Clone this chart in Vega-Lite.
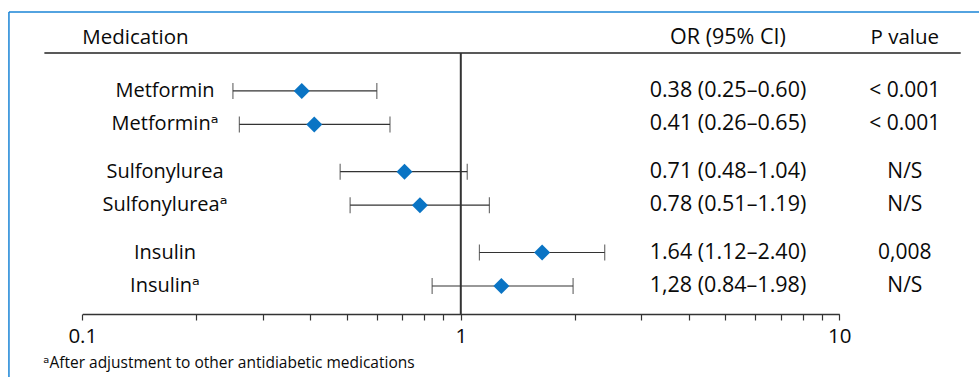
{
  "$schema": "https://vega.github.io/schema/vega-lite/v6.json",
  "width": 970,
  "height": 365,
  "autosize": {"type": "none"},
  "padding": {"left": 9, "top": 12, "right": 0, "bottom": 0},
  "background": "white",
  "config": {
    "view": {"stroke": null},
    "font": "Open Sans",
    "text": {"font": "Open Sans, DejaVu Sans", "color": "#0a0a0a"}
  },
  "data": {
    "values": [
      {"drug": "Metformin", "adj": "crude", "label": "Metformin", "or": 0.38, "lo": 0.25, "hi": 0.60, "ci": "0.38 (0.25–0.60)", "p": "< 0.001"},
      {"drug": "Metformin", "adj": "adjusted", "label": "Metforminᵃ", "or": 0.41, "lo": 0.26, "hi": 0.65, "ci": "0.41 (0.26–0.65)", "p": "< 0.001"},
      {"drug": "Sulfonylurea", "adj": "crude", "label": "Sulfonylurea", "or": 0.71, "lo": 0.48, "hi": 1.04, "ci": "0.71 (0.48–1.04)", "p": "N/S"},
      {"drug": "Sulfonylurea", "adj": "adjusted", "label": "Sulfonylureaᵃ", "or": 0.78, "lo": 0.51, "hi": 1.19, "ci": "0.78 (0.51–1.19)", "p": "N/S"},
      {"drug": "Insulin", "adj": "crude", "label": "Insulin", "or": 1.64, "lo": 1.12, "hi": 2.40, "ci": "1.64 (1.12–2.40)", "p": "0,008"},
      {"drug": "Insulin", "adj": "adjusted", "label": "Insulinᵃ", "or": 1.28, "lo": 0.84, "hi": 1.98, "ci": "1,28 (0.84–1.98)", "p": "N/S"}
    ]
  },
  "layer": [
    {
      "mark": {"type": "rule", "color": "#333333", "strokeWidth": 1.2},
      "encoding": {
        "x": {
          "field": "lo", "type": "quantitative", "title": null,
          "scale": {"type": "log", "domain": [0.1, 10], "range": [73.3, 830.3]},
          "axis": {
            "orient": "bottom", "offset": -63, "title": null, "grid": false,
            "values": [0.1, 0.2, 0.3, 0.4, 0.5, 0.6, 0.7, 0.8, 0.9, 1, 2, 3, 4, 5, 6, 7, 8, 9, 10],
            "labelExpr": "datum.value == 0.1 ? '0.1' : (datum.value == 1 ? '1' : (datum.value == 10 ? '10' : ''))",
            "tickSize": 6, "tickWidth": 1.2, "tickColor": "#333333",
            "domainColor": "#333333", "domainWidth": 1.5,
            "labelFont": "Open Sans", "labelFontSize": 20.5, "labelColor": "#0a0a0a",
            "labelPadding": 6, "labelFlush": false, "labelOverlap": false
          }
        },
        "x2": {"field": "hi"},
        "y": {
          "field": "drug", "type": "nominal",
          "scale": {"domain": ["hdr", "Metformin", "Sulfonylurea", "Insulin"], "range": [-18.65, 290.75], "paddingInner": 0.1708, "paddingOuter": 0},
          "axis": null
        },
        "yOffset": {
          "field": "adj", "type": "nominal",
          "scale": {"domain": ["crude", "adjusted"], "paddingInner": 0, "paddingOuter": 0}
        }
      }
    },
    {
      "mark": {"type": "tick", "color": "#333333", "thickness": 1.2, "size": 16},
      "encoding": {
        "x": {"field": "lo", "type": "quantitative", "title": null},
        "y": {"field": "drug", "type": "nominal"},
        "yOffset": {"field": "adj", "type": "nominal"}
      }
    },
    {
      "mark": {"type": "tick", "color": "#333333", "thickness": 1.2, "size": 16},
      "encoding": {
        "x": {"field": "hi", "type": "quantitative", "title": null},
        "y": {"field": "drug", "type": "nominal"},
        "yOffset": {"field": "adj", "type": "nominal"}
      }
    },
    {
      "mark": {"type": "point", "shape": "diamond", "filled": true, "size": 256, "color": "#0a74c4", "opacity": 1},
      "encoding": {
        "x": {"field": "or", "type": "quantitative", "title": null},
        "y": {"field": "drug", "type": "nominal"},
        "yOffset": {"field": "adj", "type": "nominal"}
      }
    },
    {
      "mark": {"type": "text", "fontSize": 20, "align": "center", "baseline": "middle"},
      "encoding": {
        "x": {"datum": 0.1654, "title": null},
        "y": {"field": "drug", "type": "nominal"},
        "yOffset": {"field": "adj", "type": "nominal"},
        "text": {"field": "label"}
      }
    },
    {
      "mark": {"type": "text", "fontSize": 21.5, "align": "center", "baseline": "middle"},
      "encoding": {
        "x": {"datum": 5.08, "title": null},
        "y": {"field": "drug", "type": "nominal"},
        "yOffset": {"field": "adj", "type": "nominal"},
        "text": {"field": "ci"}
      }
    },
    {
      "mark": {"type": "text", "fontSize": 21, "align": "center", "baseline": "middle"},
      "encoding": {
        "x": {"datum": 14.9, "title": null},
        "y": {"field": "drug", "type": "nominal"},
        "yOffset": {"field": "adj", "type": "nominal"},
        "text": {"field": "p"}
      }
    },
    {
      "data": {"values": [{}]},
      "mark": {"type": "rule", "color": "#1a84d6", "strokeWidth": 1.5},
      "encoding": {
        "x": {"datum": 0.064, "title": null},
        "x2": {"datum": 24.3},
        "y": {"datum": "hdr", "bandPosition": 0.278}
      }
    },
    {
      "data": {"values": [{}]},
      "mark": {"type": "rule", "color": "#1a84d6", "strokeWidth": 1.5},
      "encoding": {
        "x": {"datum": 0.064, "title": null},
        "y": {"datum": "hdr", "bandPosition": 0.278},
        "y2": {"datum": "Insulin", "bandPosition": 2.2}
      }
    },
    {
      "data": {"values": [{}]},
      "mark": {"type": "rule", "color": "#222222", "strokeWidth": 1.5},
      "encoding": {
        "x": {"datum": 0.0794, "title": null},
        "x2": {"datum": 20.93},
        "y": {"datum": "hdr", "bandPosition": 0.89}
      }
    },
    {
      "data": {"values": [{}]},
      "mark": {"type": "rule", "color": "#333333", "strokeWidth": 2},
      "encoding": {
        "x": {"datum": 1, "title": null},
        "y": {"datum": "hdr", "bandPosition": 0.89},
        "y2": {"datum": "Insulin", "bandPosition": 1.168}
      }
    },
    {
      "data": {"values": [{}]},
      "mark": {"type": "text", "text": "Medication", "fontSize": 20.5, "align": "left", "baseline": "alphabetic"},
      "encoding": {
        "x": {"datum": 0.1, "title": null},
        "y": {"datum": "hdr", "bandPosition": 0.756}
      }
    },
    {
      "data": {"values": [{}]},
      "mark": {"type": "text", "text": "OR (95% CI)", "fontSize": 21.5, "align": "center", "baseline": "alphabetic"},
      "encoding": {
        "x": {"datum": 5.08, "title": null},
        "y": {"datum": "hdr", "bandPosition": 0.756}
      }
    },
    {
      "data": {"values": [{}]},
      "mark": {"type": "text", "text": "P value", "fontSize": 20.5, "align": "center", "baseline": "alphabetic"},
      "encoding": {
        "x": {"datum": 14.9, "title": null},
        "y": {"datum": "hdr", "bandPosition": 0.756}
      }
    },
    {
      "data": {"values": [{}]},
      "mark": {"type": "text", "text": "ᵃAfter adjustment to other antidiabetic medications", "fontSize": 15.5, "align": "left", "baseline": "alphabetic"},
      "encoding": {
        "x": {"datum": 0.0789, "title": null},
        "y": {"datum": "Insulin", "bandPosition": 1.981}
      }
    }
  ]
}
